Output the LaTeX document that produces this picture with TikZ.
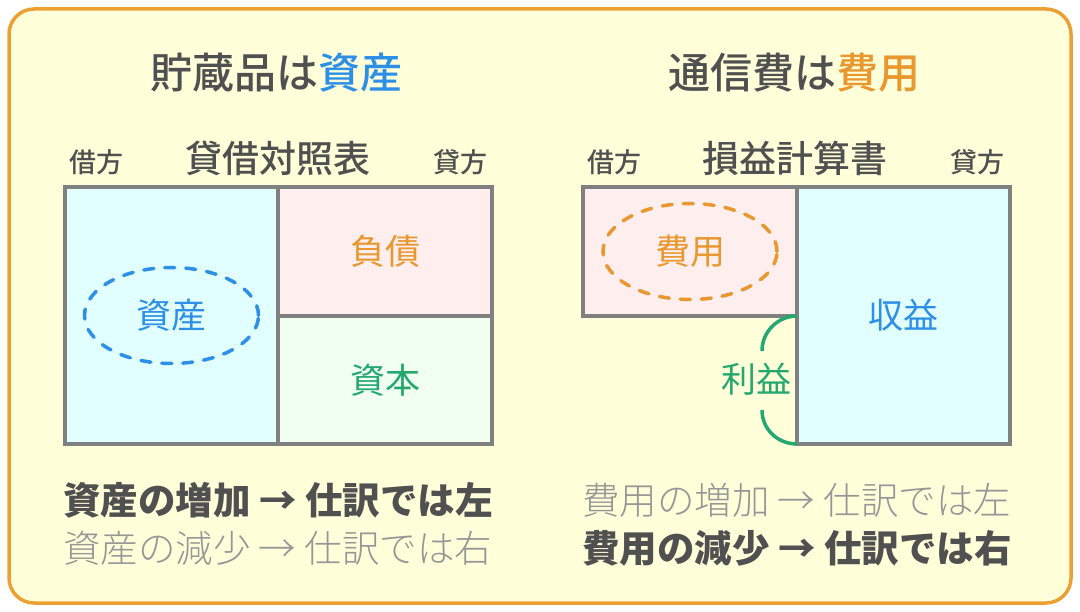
\documentclass[tikz,border=0pt]{standalone}
\usepackage{fontspec}
\setmainfont{Noto Sans CJK JP}
\newfontfamily\lightjp{Noto Sans CJK JP Light}
\newfontfamily\mediumjp{Noto Sans CJK JP Medium}
\usetikzlibrary{shapes.geometric,positioning}

\definecolor{bgyellow}{RGB}{255,255,218}
\definecolor{frameorange}{RGB}{236,160,52}
\definecolor{darktext}{RGB}{80,80,80}
\definecolor{softtext}{RGB}{150,150,150}
\definecolor{cellgray}{RGB}{128,128,128}
\definecolor{bluetext}{RGB}{45,143,229}
\definecolor{orangetext}{RGB}{232,152,46}
\definecolor{greentext}{RGB}{36,168,112}
\definecolor{cyanfill}{RGB}{226,255,255}
\definecolor{pinkfill}{RGB}{255,238,238}
\definecolor{greenfill}{RGB}{240,255,240}

\begin{document}
\begin{tikzpicture}[
  x=1pt, y=-1pt,
  board/.style={rectangle, draw=frameorange, fill=bgyellow, line width=3.5pt, rounded corners=25pt, minimum width=1062pt, minimum height=594pt, outer sep=0pt},
  cell/.style={rectangle, draw=cellgray, line width=3.5pt, outer sep=0pt, inner sep=0pt, font=\fontsize{35}{35}\selectfont},
  ring/.style={ellipse, line width=3.5pt, dash pattern=on 10pt off 11pt, line cap=round, minimum width=174pt, minimum height=96pt, inner sep=0pt, font=\fontsize{35}{35}\selectfont},
  title/.style={font=\fontsize{42}{42}\selectfont\mediumjp, text=darktext},
  head/.style={font=\fontsize{37}{37}\selectfont\mediumjp, text=darktext},
  sidetext/.style={font=\fontsize{27}{27}\selectfont\mediumjp, text=darktext},
  ruleline/.style={anchor=west, inner sep=0pt},
  arcline/.style={draw=greentext, line width=3.5pt}
]
  \useasboundingbox (0,0) rectangle (1080,612);
  \node[board] (board) at (540,306) {};

  % titles
  \node[title] (lefttitle) at (276,73) {貯蔵品は\textcolor{bluetext}{資産}};
  \node[title] (righttitle) at (794,73) {通信費は\textcolor{orangetext}{費用}};

  % balance sheet
  \node[head] (bs) at (278,158) {貸借対照表};
  \node[sidetext] (bsdebit) at (96,162) {借方};
  \node[sidetext] (bscredit) at (460,162) {貸方};
  \node[cell, fill=cyanfill, minimum width=213pt, minimum height=257pt] (asset) at (171.5,315.5) {};
  \node[cell, fill=pinkfill, text=orangetext, minimum width=214pt, minimum height=129pt, anchor=north west] (debt) at (asset.north east) {負債};
  \node[cell, fill=greenfill, text=greentext, minimum width=214pt, minimum height=128pt, anchor=north west] (equity) at (debt.south west) {資本};
  \node[ring, draw=bluetext, text=bluetext] (assetring) at (asset.center) {資産};

  % income statement
  \node[head] (pl) at (795,158) {損益計算書};
  \node[sidetext] (pldebit) at (614,162) {借方};
  \node[sidetext] (plcredit) at (977,162) {貸方};
  \node[cell, fill=pinkfill, minimum width=214pt, minimum height=129pt] (cost) at (690,251.5) {};
  \node[cell, fill=cyanfill, text=bluetext, minimum width=213pt, minimum height=257pt, anchor=north west] (revenue) at (cost.north east) {収益};
  \node[ring, draw=orangetext, text=orangetext] (costring) at (cost.center) {費用};

  % profit bracket
  \coordinate (arcA) at (762,351);
  \coordinate (arcB) at (762,410);
  \draw[arcline] (cost.south east) .. controls +(-19.3,0) and +(0,-19.3) .. (arcA);
  \draw[arcline] (arcB) .. controls +(0,19.3) and +(-19.3,0) .. (revenue.south west);
  \node[font=\fontsize{35}{35}\selectfont, text=greentext] (profit) at (756,379) {利益};

  % rules
  \node[ruleline, text=darktext, font=\fontsize{37.5}{37.5}\selectfont\bfseries] (assetup) at (63,500) {資産の増加 → 仕訳では左};
  \node[ruleline, text=softtext, font=\fontsize{37.5}{37.5}\selectfont\lightjp] (assetdown) at (63,548) {資産の減少 → 仕訳では右};
  \node[ruleline, text=softtext, font=\fontsize{37.5}{37.5}\selectfont\lightjp] (costup) at (582,500) {費用の増加 → 仕訳では左};
  \node[ruleline, text=darktext, font=\fontsize{37.5}{37.5}\selectfont\bfseries] (costdown) at (582,548) {費用の減少 → 仕訳では右};
\end{tikzpicture}
\end{document}
